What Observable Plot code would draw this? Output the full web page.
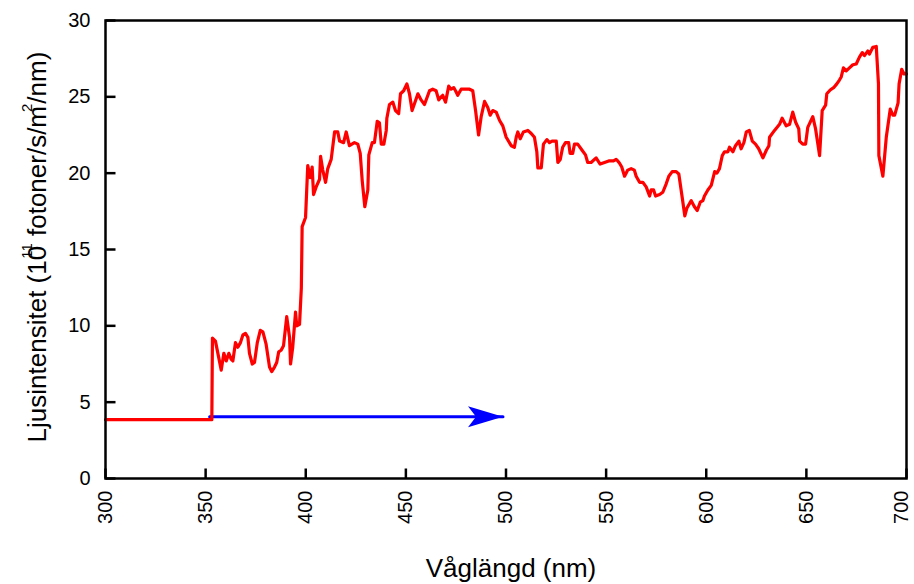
<!DOCTYPE html>
<html>
<head>
<meta charset="utf-8">
<script src="https://cdn.jsdelivr.net/npm/d3@7"></script>
<script src="https://cdn.jsdelivr.net/npm/@observablehq/plot@0.6"></script>
<style>
  html, body { margin: 0; padding: 0; background: #fff; }
  svg { display: block; }
</style>
</head>
<body>
<div id="chart"></div>
<script>
// Wavelength (nm) and light intensity (10^11 photons/s/m^2/nm)
const wavelength = [
  300, 353.1, 353.4, 354.9, 357.8, 359.1, 360.3, 361.6, 362.8, 363.6, 364.9, 366.1, 367.4, 368.6, 369.9,
  371.1, 371.9, 373.3, 374.4, 375.8, 377.3, 378.6, 380.2, 381.9, 383.0, 384.4, 385.5, 386.5, 387.7, 388.9,
  390.5, 391.9, 392.4, 393.5, 394.9, 395.5, 396.9, 397.8, 398.2, 399.9, 401.0, 402.2, 403.2, 403.9, 405.2,
  406.9, 407.4, 408.5, 409.9, 411.0, 412.7, 414.4, 416.0, 416.9, 418.9, 420.2, 421.8, 424.3, 426.0, 427.2,
  428.2, 429.5, 431.0, 431.5, 433.2, 434.3, 435.7, 436.8, 437.7, 439.0, 440.2, 440.5, 441.8, 443.5, 444.8,
  446.4, 447.3, 448.9, 450.5, 451.8, 453.1, 454.8, 456.0, 457.6, 459.3, 461.8, 463.4, 465.1, 466.4, 467.6,
  468.4, 469.8, 471.4, 472.6, 473.9, 474.8, 475.9, 477.6, 481.8, 483.4, 484.8, 486.3, 487.6, 489.3, 490.9,
  492.1, 493.4, 495.1, 496.8, 498.4, 500.1, 502.6, 504.2, 505.1, 505.9, 507.1, 508.7, 510.9, 512.6, 514.2,
  515.4, 515.9, 517.6, 518.7, 520.4, 521.7, 523.0, 525.1, 525.9, 527.1, 528.3, 529.7, 531.3, 532.0, 533.3,
  534.2, 535.8, 538.0, 539.7, 540.8, 542.5, 545.0, 547.0, 549.2, 551.3, 553.7, 555.0, 555.8, 556.7, 557.8,
  559.2, 560.8, 562.5, 564.1, 565.0, 566.7, 568.3, 570.0, 571.7, 572.5, 573.7, 574.7, 576.7, 578.3, 580.0,
  581.3, 583.0, 585.0, 586.3, 588.0, 589.3, 590.3, 592.5, 594.1, 595.5, 597.0, 598.3, 599.1, 600.8, 602.5,
  604.2, 605.3, 606.6, 608.0, 609.1, 610.8, 611.6, 613.3, 614.6, 616.3, 617.4, 618.8, 620.0, 621.5, 623.0,
  624.6, 626.2, 628.3, 630.0, 631.3, 631.6, 634.1, 636.6, 637.9, 639.9, 641.6, 643.2, 644.6, 646.2, 646.6,
  648.2, 649.6, 650.7, 653.2, 654.6, 656.6, 657.9, 659.6, 660.2, 661.9, 663.6, 665.2, 666.5, 667.4, 668.5,
  669.9, 671.5, 673.2, 674.9, 676.5, 677.9, 679.0, 680.7, 681.5, 683.2, 684.9, 686.0, 686.2, 688.2, 689.9,
  691.9, 693.2, 694.1, 695.8, 696.3, 697.6, 698.8, 700.0
];
const intensity = [
  3.85, 3.85, 9.2, 9.0, 7.1, 8.2, 7.7, 8.2, 7.8, 7.7, 8.9, 8.6, 8.9, 9.4, 9.5,
  9.25, 8.2, 7.5, 7.6, 8.9, 9.7, 9.6, 8.8, 7.3, 7.0, 7.3, 7.6, 8.3, 8.4, 8.7,
  10.6, 9.25, 7.5, 8.6, 10.9, 10.0, 10.1, 12.5, 16.5, 17.1, 20.5, 19.7, 20.4, 18.6, 19.1,
  19.6, 21.1, 20.2, 19.4, 20.3, 20.9, 22.7, 22.7, 22.1, 22.0, 22.7, 21.8, 22.0, 21.9, 21.3,
  19.5, 17.8, 18.9, 21.2, 22.0, 22.0, 23.4, 23.3, 21.9, 21.9, 22.8, 23.6, 24.5, 24.65, 24.1,
  23.9, 25.2, 25.4, 25.85, 25.2, 24.1, 24.75, 25.2, 24.8, 24.5, 25.4, 25.5, 25.4, 24.8, 25.0,
  25.1, 24.65, 25.7, 25.5, 25.6, 25.4, 25.1, 25.5, 25.5, 25.4, 24.1, 22.5, 23.7, 24.7, 24.3,
  23.8, 24.1, 24.0, 23.45, 23.1, 22.35, 21.8, 21.7, 22.35, 22.7, 22.25, 22.7, 22.8, 22.6, 22.35,
  21.4, 20.35, 20.35, 21.9, 22.2, 22.0, 22.1, 22.1, 20.7, 20.9, 21.7, 22.0, 22.0, 21.3, 21.3,
  21.9, 21.9, 21.5, 21.2, 20.7, 20.7, 21.0, 20.6, 20.7, 20.8, 20.8, 20.9, 20.8, 20.65, 20.4,
  19.8, 20.2, 20.3, 20.2, 19.8, 19.4, 19.4, 19.1, 18.5, 18.9, 18.9, 18.5, 18.6, 18.75, 19.3,
  19.8, 20.1, 20.1, 19.95, 18.4, 17.2, 17.7, 18.2, 17.8, 17.55, 18.1, 18.2, 18.5, 18.9, 19.2,
  20.1, 20.0, 20.3, 21.15, 21.4, 21.4, 21.7, 21.4, 21.8, 22.1, 21.6, 22.0, 22.7, 22.8, 22.1,
  21.9, 21.6, 21.0, 21.5, 21.8, 22.35, 22.8, 23.2, 23.6, 23.1, 23.2, 24.0, 23.35, 22.9, 22.1,
  21.9, 21.9, 23.0, 23.7, 22.9, 21.15, 24.1, 24.45, 25.2, 25.45, 25.6, 25.85, 26.1, 26.3, 26.9,
  26.7, 26.9, 27.1, 27.15, 27.6, 27.9, 27.7, 28.0, 27.8, 28.25, 28.3, 25.85, 21.15, 19.8, 22.35,
  24.2, 23.8, 23.8, 24.6, 25.85, 26.8, 26.5, 26.5
];
const arrowX = [352, 498.5];
const arrowY = [4.05, 4.05];
const xTicks = [300, 350, 400, 450, 500, 550, 600, 650, 700];
const yTicks = [0, 5, 10, 15, 20, 25, 30];
const xLabel = "Våglängd (nm)";
const yLabelParts = ["Ljusintensitet (10", "11", " fotoner/s/m", "2", "/nm)"];

const spectrum = wavelength.map((w, i) => ({w, v: intensity[i]}));
const arrow = arrowX.map((x, i) => ({x, y: arrowY[i]}));

const W = 914, H = 584, mL = 105, mR = 8, mT = 20, mB = 106;

// Filled "stealth" arrowhead with its tip at the origin, pointing right
const arrowHead = {
  draw(ctx) {
    ctx.moveTo(0, 0);
    ctx.lineTo(-35, -10.5);
    ctx.lineTo(-27, 0);
    ctx.lineTo(-35, 10.5);
    ctx.closePath();
  }
};
// Inward tick-mark glyphs (10 px long)
const upTick = {draw(ctx) { ctx.moveTo(0, 0); ctx.lineTo(0, -10); }};
const rightTick = {draw(ctx) { ctx.moveTo(0, 0); ctx.lineTo(10, 0); }};

const xLabelOpts = {tickSize: 0, tickPadding: 12, tickRotate: -90, fontSize: 20, label: null, tickFormat: d => String(d)};

const svg = Plot.plot({
  width: W,
  height: H,
  marginLeft: mL,
  marginRight: mR,
  marginTop: mT,
  marginBottom: mB,
  style: {fontFamily: "'Liberation Sans', Arial, sans-serif", color: "black", background: "white", overflow: "visible"},
  x: {domain: [300, 700], label: null},
  y: {domain: [0, 30], label: null},
  marks: [
    Plot.dot(xTicks, {x: d => d, frameAnchor: "bottom", symbol: upTick, stroke: "black", fill: "none", strokeWidth: 2.5}),
    Plot.dot(yTicks, {y: d => d, frameAnchor: "left", symbol: rightTick, stroke: "black", fill: "none", strokeWidth: 2.5}),
    Plot.axisX({...xLabelOpts, ticks: xTicks.slice(0, -1)}),
    Plot.axisX({...xLabelOpts, ticks: xTicks.slice(-1), dx: -5}),
    Plot.axisY({ticks: yTicks, tickSize: 0, tickPadding: 15, fontSize: 20, label: null}),
    Plot.line(arrow, {x: "x", y: "y", stroke: "#0000ff", strokeWidth: 3}),
    Plot.dot(arrow.slice(1), {x: "x", y: "y", symbol: arrowHead, fill: "#0000ff", stroke: "none"}),
    Plot.line(spectrum, {x: "w", y: "v", stroke: "#ff0000", strokeWidth: 3.2, strokeLinejoin: "round"}),
    Plot.frame({stroke: "black", strokeWidth: 2.5})
  ]
});

const s = d3.select(svg);
s.append("text")
  .attr("x", 511).attr("y", 577)
  .attr("text-anchor", "middle")
  .attr("font-size", 26)
  .attr("fill", "black")
  .text(xLabel);

const yl = s.append("text")
  .attr("transform", "translate(46,247) rotate(-90)")
  .attr("text-anchor", "middle")
  .attr("font-size", 26)
  .attr("fill", "black");
yl.append("tspan").text(yLabelParts[0]);
yl.append("tspan").attr("font-size", 15).attr("dx", -13).attr("dy", -14).text(yLabelParts[1]);
yl.append("tspan").attr("dy", 14).text(yLabelParts[2]);
yl.append("tspan").attr("font-size", 15).attr("dx", -6).attr("dy", -14).text(yLabelParts[3]);
yl.append("tspan").attr("dy", 14).text(yLabelParts[4]);

document.getElementById("chart").appendChild(svg);
</script>
</body>
</html>
